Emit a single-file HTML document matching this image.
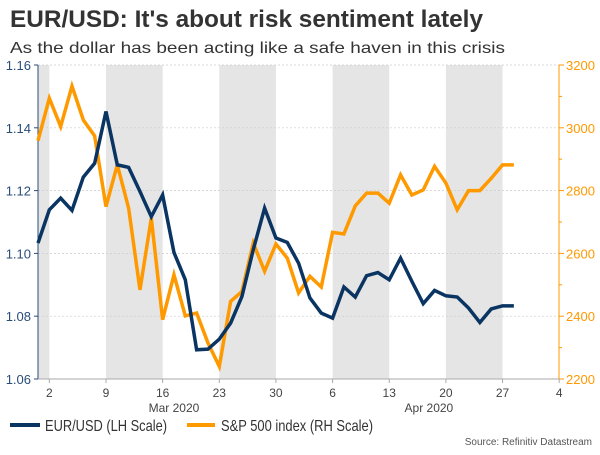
<!DOCTYPE html>
<html><head><meta charset="utf-8"><style>
body{margin:0;width:600px;height:450px;background:#fff;overflow:hidden;font-family:"Liberation Sans",sans-serif}
</style></head><body>
<svg id="chart" width="600" height="450" xmlns="http://www.w3.org/2000/svg" font-family="Liberation Sans, sans-serif">
<text x="10" y="27" font-size="24" font-weight="bold" fill="#333" textLength="473" lengthAdjust="spacingAndGlyphs">EUR/USD: It's about risk sentiment lately</text>
<text x="10" y="53" font-size="16" fill="#333" textLength="495" lengthAdjust="spacingAndGlyphs">As the dollar has been acting like a safe haven in this crisis</text>
<g id="bands"></g><g id="grid"></g><g id="axes"></g><g id="lines"></g>
<g>
<line x1="10" y1="425" x2="40" y2="425" stroke="#0a3462" stroke-width="4"/>
<text x="45" y="431" font-size="16" fill="#333" textLength="122" lengthAdjust="spacingAndGlyphs">EUR/USD (LH Scale)</text>
<line x1="187" y1="425" x2="215" y2="425" stroke="#ff9900" stroke-width="4"/>
<text x="221" y="431" font-size="16" fill="#333" textLength="152" lengthAdjust="spacingAndGlyphs">S&amp;P 500 index (RH Scale)</text>
</g>
<text x="592" y="445" font-size="10" fill="#555" text-anchor="end">Source: Refinitiv Datastream</text>
</svg>
<script>
const eurusd=[1.1033,1.1139,1.1176,1.1137,1.1243,1.1287,1.1452,1.1282,1.1274,1.1197,1.1117,1.1186,1.1003,1.0916,1.0693,1.0695,1.0727,1.0778,1.0863,1.1012,1.1144,1.1049,1.1035,1.0969,1.0858,1.0810,1.0794,1.0893,1.0861,1.0929,1.0939,1.0916,1.0985,1.0911,1.0840,1.0882,1.0865,1.0861,1.0826,1.0780,1.0823,1.0833,1.0833];
const sp500=[2959,3094,3004,3133,3025,2974,2749,2882,2744,2484,2712,2389,2532,2401,2410,2315,2240,2447,2479,2633,2543,2630,2585,2474,2527,2493,2667,2662,2751,2792,2792,2760,2850,2786,2802,2877,2824,2739,2800,2800,2839,2882,2882];
const leftTicks=[1.06,1.08,1.10,1.12,1.14,1.16];
const rightTicks=[2200,2400,2600,2800,3000,3200];
const xTickLabels=["2","9","16","23","30","6","13","20","27","4"];
const xTickIdx=[1,6,11,16,21,26,31,36,41,46];
const bandRanges=[[0,1],[6,11],[16,21],[26,31],[36,41]];
const months=[["Mar 2020",12],["Apr 2020",34.5]];
const NS="http://www.w3.org/2000/svg";
const L=38,R=559,T=65,B=379,step=11.33;
const x=i=>L+i*step;
const yL=v=>B-(v-1.06)/0.10*(B-T);
const yR=v=>B-(v-2200)/1000*(B-T);
function mk(tag,attrs,parent){const e=document.createElementNS(NS,tag);for(const k in attrs)e.setAttribute(k,attrs[k]);document.getElementById(parent).appendChild(e);return e;}
bandRanges.forEach(r=>{const e=mk('rect',{x:x(r[0]),y:T,width:x(r[1])-x(r[0]),height:B-T,fill:'#e5e5e5'},'bands');

});
leftTicks.forEach(v=>{const g=mk('line',{x1:L,x2:R,y1:yL(v),y2:yL(v),stroke:'#ccc','stroke-dasharray':'2,2','stroke-width':0.7},'grid');


const t=mk('text',{x:L-7,y:yL(v)+5,'font-size':13,fill:'#2a4d7a','text-anchor':'end'},'axes');t.textContent=v.toFixed(2);


mk('line',{x1:L-4,x2:L,y1:yL(v),y2:yL(v),stroke:'#2a4d7a'},'axes');});
rightTicks.forEach(v=>{const t=mk('text',{x:R+7,y:yR(v)+5,'font-size':13,fill:'#ff9900'},'axes');t.textContent=v;


mk('line',{x1:R,x2:R+5,y1:yR(v),y2:yR(v),stroke:'#ff9900'},'axes');
if(v<3200)mk('line',{x1:R,x2:R+3,y1:yR(v+100),y2:yR(v+100),stroke:'#ff9900'},'axes');});
mk('line',{x1:L,x2:L,y1:T,y2:B,stroke:'#2a4d7a'},'axes');
mk('line',{x1:R,x2:R,y1:T,y2:B,stroke:'#ff9900'},'axes');
mk('line',{x1:L,x2:R,y1:B,y2:B,stroke:'#aaa'},'axes');
xTickLabels.forEach((s,k)=>{const xx=x(xTickIdx[k]);mk('line',{x1:xx,x2:xx,y1:B,y2:B+4,stroke:'#aaa'},'axes');
const t=mk('text',{x:xx,y:B+18,'font-size':12,fill:'#444','text-anchor':'middle'},'axes');t.textContent=s;

});
months.forEach(m=>{const t=mk('text',{x:x(m[1]),y:B+33,'font-size':12,fill:'#444','text-anchor':'middle'},'axes');t.textContent=m[0];

});
const p1=mk('polyline',{points:sp500.map((v,i)=>x(i)+','+yR(v)).join(' '),fill:'none',stroke:'#ff9900','stroke-width':3.5,'stroke-linejoin':'miter'},'lines');


const p2=mk('polyline',{points:eurusd.map((v,i)=>x(i)+','+yL(v)).join(' '),fill:'none',stroke:'#0a3462','stroke-width':3.5,'stroke-linejoin':'miter'},'lines');


</script>
</body></html>
